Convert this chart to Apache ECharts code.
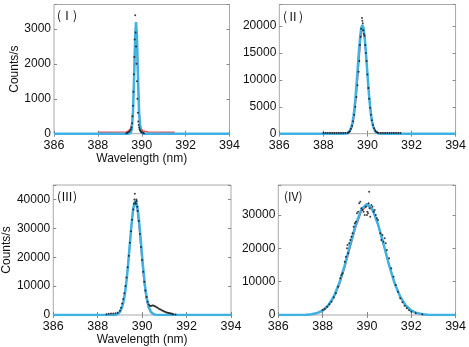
<!DOCTYPE html>
<html>
<head>
<meta charset="utf-8">
<script src="https://cdn.jsdelivr.net/npm/echarts@6/dist/echarts.min.js"></script>
<style>
    html, body {margin: 0; padding: 0; background: #fff;}
    #main {width: 469px; height: 347px;}
</style>
</head>
<body>
<div id="main"></div>
<script>
// x ticks shared by all four panels (nm)
var xTicks = [386, 388, 390, 392, 394];

// (I) measured points, fit (red) and model (blue)
var p1Dots = [[389.3,15],[389.35,30],[389.4,50],[389.45,80],[389.5,120],[389.53,180],[389.56,300],[389.58,500],
    [389.6,800],[389.62,1200],[389.64,1700],[389.66,2200],[389.68,2700],[389.7,3390],[389.72,2900],[389.74,2500],
    [389.76,2000],[389.78,1500],[389.8,1000],[389.82,600],[389.84,350],[389.86,250],[389.88,180],[389.9,130],
    [389.93,90],[389.96,60],[390.0,40],[390.05,25],[390.1,15]];
var p1Red = [[388,40],[389.3,50],[389.4,80],[389.5,160],[389.55,300],[389.6,700],[389.65,1550],[389.7,2700],
    [389.73,3100],[389.77,2800],[389.82,1650],[389.87,750],[389.92,300],[389.97,150],[390.05,80],[390.3,50],[391.5,40]];
var p1Blue = [[386,0],[389.4,0],[389.5,23],[389.55,147],[389.6,600],[389.65,1600],[389.7,2790],[389.74,3200],
    [389.78,2790],[389.83,1600],[389.88,600],[389.93,147],[389.98,23],[390.1,0],[394,0]];

// (II)
var p2Dots = [[388.0,150],[388.1,150],[388.2,150],[388.3,150],[388.4,150],[388.5,150],[388.6,150],[388.7,150],
    [388.8,150],[388.9,150],[389.0,150],[389.1,100],[389.15,250],[389.2,450],[389.25,900],[389.3,1500],[389.35,2300],
    [389.4,3500],[389.45,5000],[389.5,6800],[389.55,9000],[389.6,11500],[389.63,13500],[389.66,16500],[389.69,18000],
    [389.72,19500],[389.75,21500],[389.77,21000],[389.79,20500],[389.81,19200],[389.84,18500],[389.87,18200],
    [389.9,16500],[389.93,15000],[389.96,13500],[390.0,11000],[390.04,8500],[390.08,6500],[390.12,4800],
    [390.16,3500],[390.2,2500],[390.25,1600],[390.3,1000],[390.35,600],[390.4,350],[390.45,200],[390.5,150],
    [390.6,150],[390.7,150],[390.8,150],[390.9,150],[391.0,150],[391.1,150],[391.2,150],[391.3,150],[391.4,150],[391.5,150]];
var p2Red = [[388,100],[389.0,100],[389.1,150],[389.2,400],[389.3,1200],[389.4,3300],[389.5,7300],[389.6,12800],
    [389.7,18000],[389.78,20000],[389.87,18000],[389.97,12800],[390.07,7300],[390.17,3300],[390.27,1200],
    [390.37,400],[390.5,150],[390.6,100],[391.5,100]];
var p2Blue = [[386,0],[388.9,0],[389.07,78],[389.17,341],[389.27,1190],[389.32,2030],[389.37,3290],[389.42,5030],
    [389.47,7270],[389.52,9940],[389.57,12830],[389.62,15650],[389.67,18040],[389.72,19630],[389.77,20200],
    [389.82,19630],[389.87,18040],[389.92,15650],[389.97,12830],[390.02,9940],[390.07,7270],[390.12,5030],
    [390.17,3290],[390.22,2030],[390.27,1190],[390.37,341],[390.47,78],[390.6,0],[394,0]];

// (III)
var p3Dots = [[388.4,300],[388.5,400],[388.6,500],[388.7,550],[388.8,600],[388.9,800],[389.0,1500],[389.05,2500],
    [389.1,4000],[389.15,5500],[389.2,7500],[389.25,10000],[389.3,13000],[389.35,16500],[389.4,20500],[389.45,25000],
    [389.5,29000],[389.55,33000],[389.6,36500],[389.63,38500],[389.65,40000],[389.67,42000],[389.7,39000],
    [389.72,38500],[389.74,40000],[389.76,39500],[389.78,37500],[389.8,36000],[389.85,32500],[389.9,28000],
    [389.95,23500],[390.0,19000],[390.05,15000],[390.1,11500],[390.15,8500],[390.2,6200],[390.25,4600],
    [390.3,3600],[390.35,3200],[390.4,3100],[390.45,3300],[390.5,3300],[390.55,3100],[390.6,2900],[390.65,2700],
    [390.7,2500],[390.75,2200],[390.8,2000],[390.85,1800],[390.9,1600],[390.95,1400],[391.0,1200],[391.05,1000],
    [391.1,900],[391.15,800],[391.2,700],[391.25,600],[391.3,500],[391.35,400],[391.4,300],[391.5,150]];
var p3Red = [[386,0],[388.7,0],[388.8,120],[388.9,380],[389.0,1100],[389.1,2800],[389.2,6300],[389.3,12200],
    [389.4,20400],[389.5,29500],[389.6,36800],[389.68,39300],[389.78,36600],[389.88,29300],[389.98,20200],
    [390.08,12000],[390.18,6100],[390.28,2700],[390.38,1000],[390.48,330],[390.6,80],[390.8,0],[394,0]];
var p3Blue = [[386,0],[388.7,0],[388.8,99],[388.9,348],[389.0,1055],[389.1,2750],[389.15,4220],[389.2,6200],
    [389.25,8830],[389.3,12090],[389.35,15960],[389.4,20300],[389.45,24880],[389.5,29390],[389.55,33450],
    [389.6,36700],[389.65,38780],[389.7,39500],[389.75,38780],[389.8,36700],[389.85,33450],[389.9,29390],
    [389.95,24880],[390.0,20300],[390.05,15960],[390.1,12090],[390.15,8830],[390.2,6200],[390.25,4220],
    [390.3,2750],[390.4,1055],[390.5,348],[390.6,99],[390.7,0],[394,0]];

// (IV)
var p4Dots = [[388.0,1500],[388.1,1800],[388.2,2500],[388.3,3200],[388.4,4000],[388.5,5300],[388.6,6500],
    [388.7,8500],[388.8,11000],[388.85,12000],[388.9,12500],[389.0,16000],[389.05,17500],[389.1,20000],
    [389.12,21000],[389.15,18500],[389.2,21500],[389.25,22500],[389.3,23500],[389.35,24500],[389.4,26500],
    [389.45,27500],[389.5,28000],[389.55,30500],[389.6,31000],[389.65,33500],[389.7,34000],[389.75,32000],
    [389.8,31500],[389.85,31000],[389.9,30000],[389.95,32500],[390.0,30000],[390.02,31000],[390.05,30500],
    [390.08,33500],[390.1,37000],[390.12,32000],[390.15,29500],[390.2,33000],[390.25,32500],[390.3,31000],
    [390.35,31500],[390.4,30000],[390.45,29000],[390.5,28500],[390.6,24500],[390.65,22500],[390.7,24000],
    [390.75,22000],[390.8,23000],[390.85,21500],[390.9,19500],[391.0,17000],[391.1,14000],[391.2,11500],
    [391.3,9000],[391.4,7000],[391.5,5000],[391.6,3800],[391.7,2800],[391.8,2000],[391.9,1400],[392.0,1000],
    [392.2,500],[392.5,200]];
var p4Red = [[386,0],[387,20],[387.5,180],[387.75,500],[388,1200],[388.25,2600],[388.5,5100],[388.75,9000],
    [389,14300],[389.25,20500],[389.5,26500],[389.75,31100],[390.03,33000],[390.28,31100],[390.53,26500],
    [390.78,20500],[391.03,14300],[391.28,9000],[391.53,5100],[391.78,2600],[392.03,1200],[392.28,500],
    [392.53,180],[393,20],[394,0]];
var p4Blue = [[386,0],[387,25],[387.25,78],[387.5,222],[387.75,576],[388,1350],[388.25,2860],[388.5,5490],
    [388.75,9520],[389,14950],[389.25,21210],[389.5,27240],[389.75,31670],[390,33300],[390.25,31670],
    [390.5,27240],[390.75,21210],[391,14950],[391.25,9520],[391.5,5490],[391.75,2860],[392,1350],[392.25,576],
    [392.5,222],[392.75,78],[393,25],[394,0]];

var panels = [
    {grid: {left: 54, top: 4.5, width: 175.5, height: 129.2}, ymax: 3700, step: 1000, label: '(Ⅰ)', lx: 57, ly: 9,
        yName: 'Counts/s', xName: 'Wavelength (nm)', dots: p1Dots, red: p1Red, blue: p1Blue},
    {grid: {left: 279.3, top: 4.5, width: 176.7, height: 129.2}, ymax: 24000, step: 5000, label: '(Ⅱ)', lx: 283, ly: 10,
        yName: '', xName: '', dots: p2Dots, red: p2Red, blue: p2Blue},
    {grid: {left: 52.7, top: 185, width: 178.3, height: 130}, ymax: 45000, step: 10000, label: '(Ⅲ)', lx: 57, ly: 190,
        yName: 'Counts/s', xName: 'Wavelength (nm)', dots: p3Dots, red: p3Red, blue: p3Blue},
    {grid: {left: 278.3, top: 185, width: 178.4, height: 130}, ymax: 39000, step: 10000, label: '(IV)', lx: 284, ly: 190,
        yName: '', xName: '', dots: p4Dots, red: p4Red, blue: p4Blue}
];

var font = 'Liberation Sans, Arial, sans-serif';
var grids = [], xAxes = [], yAxes = [], series = [], texts = [];

panels.forEach(function (p, i) {
    var g = p.grid;
    grids.push({left: g.left, top: g.top, width: g.width, height: g.height,
        show: true, borderColor: '#a8a8a8', borderWidth: 1, backgroundColor: '#fff'});
    var tick = {show: true, inside: true, length: 3, lineStyle: {color: '#888'}};
    // bottom x axis
    xAxes.push({
        gridIndex: i, type: 'value', min: xTicks[0], max: xTicks[xTicks.length - 1], interval: 2,
        position: 'bottom',
        axisLine: {show: false}, axisTick: tick, splitLine: {show: false},
        axisLabel: {color: '#111', fontSize: 12.5, fontFamily: font, margin: 5},
        name: p.xName, nameLocation: 'middle', nameGap: 19,
        nameTextStyle: {color: '#111', fontSize: 12, fontFamily: font, verticalAlign: 'top'}
    });
    // top mirror (ticks only)
    xAxes.push({
        gridIndex: i, type: 'value', min: xTicks[0], max: xTicks[xTicks.length - 1], interval: 2,
        position: 'top',
        axisLine: {show: false}, axisTick: tick, splitLine: {show: false}, axisLabel: {show: false}
    });
    var step = p.step;
    yAxes.push({
        gridIndex: i, type: 'value', min: 0, max: p.ymax, interval: step, position: 'left',
        axisLine: {show: false}, axisTick: tick, splitLine: {show: false},
        axisLabel: {color: '#111', fontSize: 12, fontFamily: font, margin: 3,
            formatter: function (v) { return v % step === 0 ? v : ''; }},
        name: p.yName, nameLocation: 'middle', nameGap: 33, nameRotate: 90,
        nameTextStyle: {color: '#111', fontSize: 12, fontFamily: font}
    });
    yAxes.push({
        gridIndex: i, type: 'value', min: 0, max: p.ymax, interval: step, position: 'right',
        axisLine: {show: false}, axisTick: tick, splitLine: {show: false}, axisLabel: {show: false}
    });
    var xi = i * 2, yi = i * 2;
    series.push({
        type: 'line', xAxisIndex: xi, yAxisIndex: yi, data: p.red, symbol: 'none',
        lineStyle: {color: '#e2505e', width: 1.5}, z: 2
    });
    series.push({
        type: 'line', xAxisIndex: xi, yAxisIndex: yi, data: p.blue, symbol: 'none',
        lineStyle: {color: '#3fb2e4', width: 2.5}, z: 3
    });
    series.push({
        type: 'scatter', xAxisIndex: xi, yAxisIndex: yi, data: p.dots, symbolSize: 2,
        itemStyle: {color: '#111'}, z: 4
    });
    texts.push({
        type: 'text', left: p.lx, top: p.ly, z: 10,
        style: {text: p.label, fill: '#111', font: '12px "Noto Sans CJK SC", sans-serif'}
    });
});

var option = {
    animation: false,
    grid: grids,
    xAxis: xAxes,
    yAxis: yAxes,
    series: series,
    graphic: texts
};
var myChart = echarts.init(document.getElementById('main'));
myChart.setOption(option);
</script>
</body>
</html>
